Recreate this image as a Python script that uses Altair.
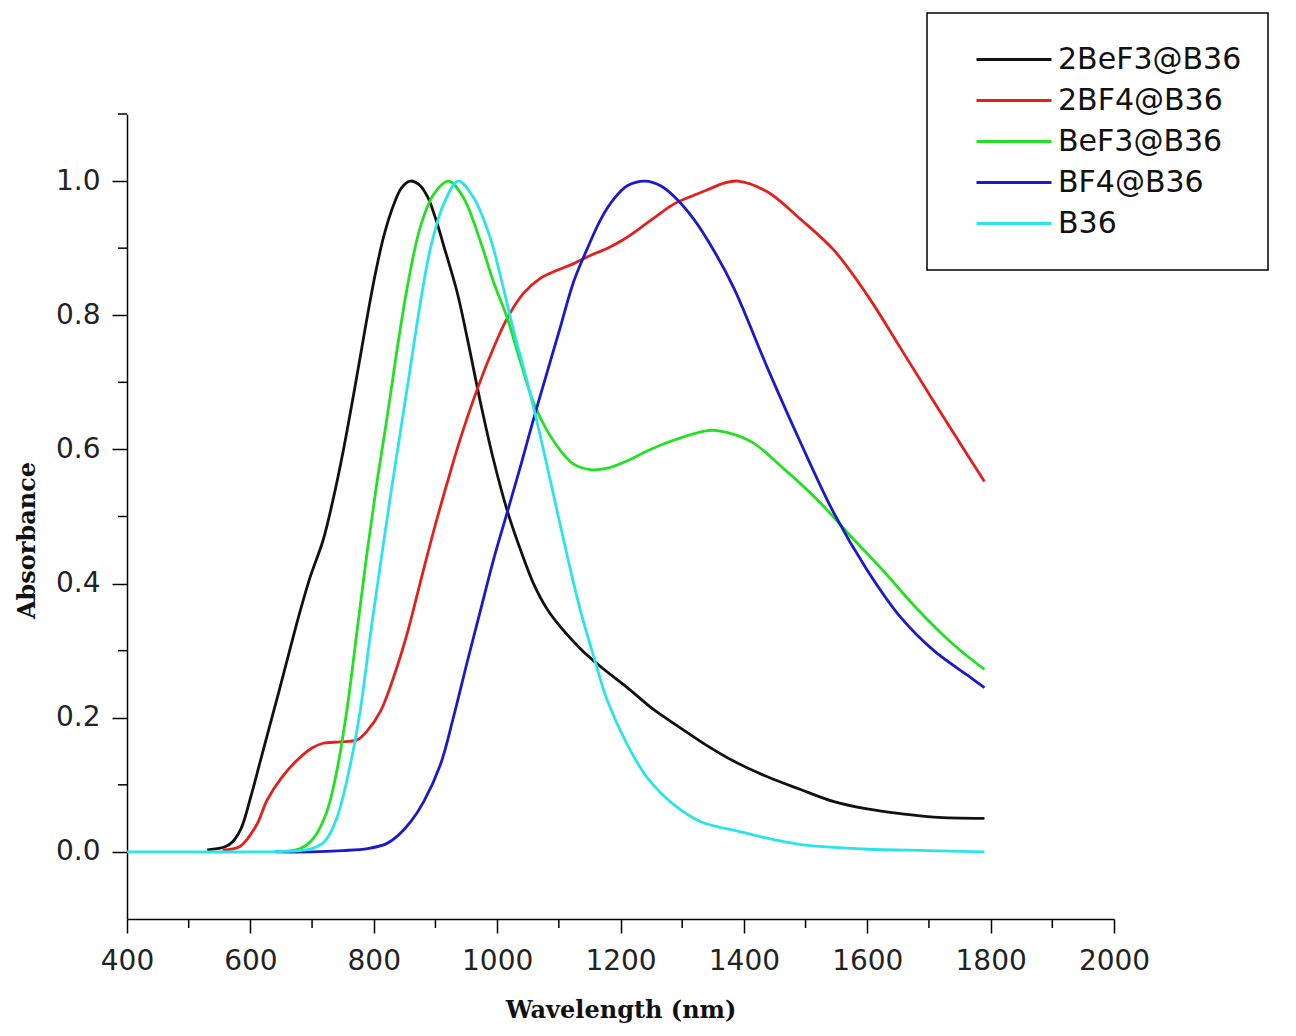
import altair as alt
import pandas as pd

# ---------------- data ----------------
series_names = ["2BeF3@B36", "2BF4@B36", "BeF3@B36", "BF4@B36", "B36"]
series_colors = ["#111111", "#e3201b", "#22e022", "#1a1ac8", "#2ae4ea"]

black_x = [530, 560, 572, 585, 600, 616, 632, 648, 665, 681, 697, 718, 734, 751, 767, 783, 800, 816, 832,
           845, 859, 873, 887, 900, 913, 935, 952, 973, 994, 1016, 1038, 1059, 1081, 1103, 1135, 1168,
           1211, 1254, 1297, 1341, 1384, 1438, 1492, 1546, 1600, 1654, 1708, 1790]
black_y = [0.003, 0.008, 0.016, 0.035, 0.08, 0.135, 0.19, 0.245, 0.305, 0.36, 0.41, 0.465, 0.525, 0.60,
           0.68, 0.764, 0.85, 0.917, 0.964, 0.99, 1.0, 0.995, 0.977, 0.945, 0.905, 0.835, 0.764, 0.67,
           0.585, 0.51, 0.45, 0.4, 0.362, 0.335, 0.303, 0.276, 0.245, 0.212, 0.185, 0.158, 0.135, 0.112,
           0.093, 0.075, 0.064, 0.057, 0.052, 0.05]

red_x = [555, 583, 610, 627, 650, 676, 700, 718, 746, 773, 789, 811, 832, 854, 875, 897, 919, 940, 962,
         989, 1016, 1043, 1070, 1097, 1124, 1151, 1179, 1205, 1232, 1260, 1287, 1314, 1341, 1368, 1390,
         1438, 1492, 1546, 1600, 1654, 1708, 1763, 1790]
red_y = [0.003, 0.008, 0.04, 0.077, 0.11, 0.137, 0.155, 0.162, 0.164, 0.167, 0.18, 0.21, 0.26, 0.325, 0.40,
         0.478, 0.55, 0.615, 0.675, 0.74, 0.795, 0.833, 0.855, 0.867, 0.877, 0.889, 0.9, 0.913, 0.93, 0.949,
         0.966, 0.977, 0.987, 0.997, 1.0, 0.984, 0.943, 0.897, 0.83, 0.751, 0.671, 0.591, 0.552]

green_x = [640, 681, 702, 724, 740, 757, 773, 789, 805, 822, 838, 854, 875, 897, 921, 945, 973, 994, 1016,
           1038, 1059, 1081, 1103, 1124, 1151, 1179, 1211, 1244, 1287, 1341, 1357, 1411, 1465, 1519, 1573,
           1627, 1681, 1735, 1790]
green_y = [0.0, 0.005, 0.02, 0.06, 0.12, 0.215, 0.33, 0.445, 0.55, 0.65, 0.75, 0.84, 0.93, 0.98, 1.0, 0.976,
           0.91, 0.85, 0.797, 0.73, 0.67, 0.628, 0.598, 0.578, 0.57, 0.572, 0.583, 0.598, 0.614, 0.628,
           0.628, 0.612, 0.571, 0.525, 0.471, 0.418, 0.362, 0.313, 0.272]

blue_x = [640, 700, 750, 790, 820, 840, 860, 881, 908, 929, 952, 973, 994, 1016, 1038, 1059, 1081, 1103,
          1124, 1146, 1168, 1189, 1211, 1240, 1265, 1287, 1319, 1351, 1384, 1438, 1492, 1546, 1600, 1654,
          1708, 1763, 1790]
blue_y = [0.0, 0.0, 0.002, 0.005, 0.012, 0.025, 0.045, 0.075, 0.13, 0.2, 0.285, 0.36, 0.435, 0.505, 0.575,
          0.645, 0.715, 0.784, 0.85, 0.899, 0.943, 0.973, 0.993, 1.0, 0.993, 0.977, 0.943, 0.897, 0.84,
          0.722, 0.61, 0.505, 0.42, 0.35, 0.3, 0.263, 0.245]

cyan_x = [400, 500, 600, 680, 700, 720, 740, 762, 778, 794, 811, 827, 843, 859, 875, 892, 913, 937, 962,
          989, 1005, 1026, 1049, 1070, 1092, 1114, 1135, 1157, 1179, 1211, 1244, 1287, 1330, 1395, 1450,
          1500, 1600, 1700, 1790]
cyan_y = [0.0, 0.0, 0.0, 0.002, 0.005, 0.015, 0.05, 0.13, 0.21, 0.32, 0.43, 0.53, 0.625, 0.72, 0.815, 0.9,
          0.965, 1.0, 0.975, 0.915, 0.86, 0.78, 0.70, 0.62, 0.53, 0.44, 0.36, 0.29, 0.225, 0.16, 0.11,
          0.07, 0.045, 0.03, 0.018, 0.01, 0.004, 0.002, 0.0]

x_ticks = [400, 600, 800, 1000, 1200, 1400, 1600, 1800, 2000]
x_minor = [500, 700, 900, 1100, 1300, 1500, 1700, 1900]
y_ticks = [0.0, 0.2, 0.4, 0.6, 0.8, 1.0]
y_minor = [0.1, 0.3, 0.5, 0.7, 0.9, 1.1]

# ---------------- tables ----------------
xs = [black_x, red_x, green_x, blue_x, cyan_x]
ys = [black_y, red_y, green_y, blue_y, cyan_y]
rows = []
for name, sx, sy in zip(series_names, xs, ys):
    for a, b in zip(sx, sy):
        rows.append({"series": name, "wl": a, "abs": b})
df = pd.DataFrame(rows)
dfx = pd.DataFrame({"wl": x_minor})
dfy = pd.DataFrame({"abs": y_minor})

PW, PH = 987, 805

xscale = alt.Scale(domain=[400, 2000], nice=False)
yscale = alt.Scale(domain=[-0.1, 1.1], nice=False)

x_axis = alt.Axis(
    values=x_ticks, format="d", tickSize=14, labelPadding=14, labelFlush=False,
    title="Wavelength (nm)", titleX=PW / 2, titleY=91, titleAlign="center", titleBaseline="middle")
y_axis = alt.Axis(
    values=y_ticks, format=".1f", tickSize=15, labelPadding=12,
    title="Absorbance", titleX=-100, titleY=426, titleAngle=270,
    titleAlign="center", titleBaseline="middle")
x_enc = alt.X("wl:Q", scale=xscale, axis=x_axis)
y_enc = alt.Y("abs:Q", scale=yscale, axis=y_axis)
color_enc = alt.Color("series:N", scale=alt.Scale(domain=series_names, range=series_colors),
                      legend=alt.Legend(title=None, orient="none", legendX=800, legendY=-101,
                                        strokeColor="black", padding=26, symbolOffset=22,
                                        symbolType="stroke", symbolSize=5625, symbolStrokeWidth=3,
                                        clipHeight=41, rowPadding=0, labelOffset=5, labelLimit=500,
                                        labelFontSize=30, labelFont="DejaVu Sans", labelColor="#111"))

base = alt.Chart(df)
layers = []
for name in series_names:
    layers.append(
        base.transform_filter(alt.datum.series == name)
        .mark_line(strokeWidth=2.8, interpolate="catmull-rom")
        .encode(x=x_enc, y=y_enc, color=color_enc)
    )

xminor = alt.Chart(dfx).mark_rule(color="black", strokeWidth=1.5).encode(
    x=x_enc, y=alt.value(PH), y2=alt.value(PH + 9))
yminor = alt.Chart(dfy).mark_rule(color="black", strokeWidth=1.5).encode(
    y=y_enc, x=alt.value(-9), x2=alt.value(0))

chart = alt.layer(*layers, xminor, yminor).properties(
    width=PW, height=PH,
    autosize=alt.AutoSizeParams(type="none"),
    padding={"left": 119, "top": 106, "right": 170, "bottom": 108},
).configure_view(stroke=None).configure_axis(
    grid=False, domainColor="black", domainWidth=1.5, tickColor="black", tickWidth=1.5,
    labelFont="DejaVu Sans", labelFontSize=28, labelColor="#222",
    titleFont="DejaVu Serif", titleFontWeight="bold", titleFontSize=24, titleColor="#111",
).configure_legend(strokeWidth=1.5)

chart.save("out.html", embed_options={"renderer": "svg", "actions": False})
